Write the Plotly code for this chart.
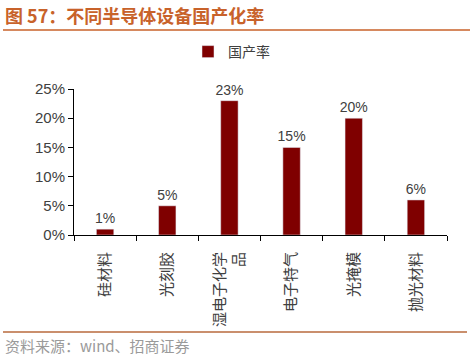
import plotly.graph_objects as go

categories = ["硅材料", "光刻胶", "湿电子化学<br>品", "电子特气", "光掩模", "抛光材料"]
values = [0.01, 0.05, 0.23, 0.15, 0.20, 0.06]
labels = ["1%", "5%", "23%", "15%", "20%", "6%"]
series_name = "国产率"
y_ticks = [0, 0.05, 0.10, 0.15, 0.20, 0.25]
y_tick_text = ["0%", "5%", "10%", "15%", "20%", "25%"]

W, H = 473, 355
L, R, T, B = 74, 447, 89, 235

def px(p):
    return (p - L) / (R - L)

def py(p):
    return (B - p) / (B - T)

fig = go.Figure()
fig.add_trace(go.Bar(
    x=categories, y=values, name=series_name,
    marker_color="#7F0000", width=0.28,
    text=labels, textposition="outside", constraintext="none",
    textfont=dict(size=14, color="#404040", family="Liberation Sans, Arial"),
    cliponaxis=False,
))

title_color = "#C8622A"
fig.update_layout(
    width=W, height=H,
    margin=dict(l=L, r=W - R, t=T, b=H - B, autoexpand=False),
    paper_bgcolor="white", plot_bgcolor="white",
    showlegend=True,
    legend=dict(x=px(188), y=py(36), xanchor="left", yanchor="top",
                orientation="h", font=dict(size=14, color="#404040",
                family="Noto Sans CJK SC"),
                bgcolor="rgba(0,0,0,0)"),
    font=dict(family="Liberation Sans, Noto Sans CJK SC"),
    xaxis=dict(type="category", showline=True, linecolor="#000000", linewidth=1,
               ticks="outside", tickson="boundaries", ticklen=5, tickcolor="#000000",
               tickangle=-90, ticklabelstandoff=10,
               tickfont=dict(size=15, color="#404040", family="Noto Sans CJK SC"),
               showgrid=False, automargin=False),
    yaxis=dict(range=[0, 0.25], tickvals=y_ticks, ticktext=y_tick_text,
               showline=True, linecolor="#000000", linewidth=1,
               ticks="outside", ticklen=5, tickcolor="#000000",
               tickfont=dict(size=15, color="#404040", family="Liberation Sans, Arial"),
               showgrid=False, zeroline=False, automargin=False),
    bargap=0.5,
)

fig.add_annotation(x=px(3), y=py(15), xref="paper", yref="paper",
                   text="<b>图 57：不同半导体设备国产化率</b>", showarrow=False,
                   xanchor="left", yanchor="middle",
                   font=dict(size=18, color=title_color, family="Noto Sans CJK SC"))
fig.add_shape(type="line", xref="paper", yref="paper",
              x0=px(3), x1=px(470), y0=py(30), y1=py(30),
              line=dict(color=title_color, width=1.5))
fig.add_shape(type="line", xref="paper", yref="paper",
              x0=px(3), x1=px(467), y0=py(332), y1=py(332),
              line=dict(color="#B86A3C", width=1.5))
fig.add_annotation(x=px(3), y=py(345), xref="paper", yref="paper",
                   text="资料来源：wind、招商证券", showarrow=False,
                   xanchor="left", yanchor="middle",
                   font=dict(size=15, color="#9A9A9A", family="Noto Sans CJK SC"))

fig.write_html("out.html", config={"displayModeBar": False},
               post_script="document.body.style.margin='0';document.body.style.overflow='hidden';")
